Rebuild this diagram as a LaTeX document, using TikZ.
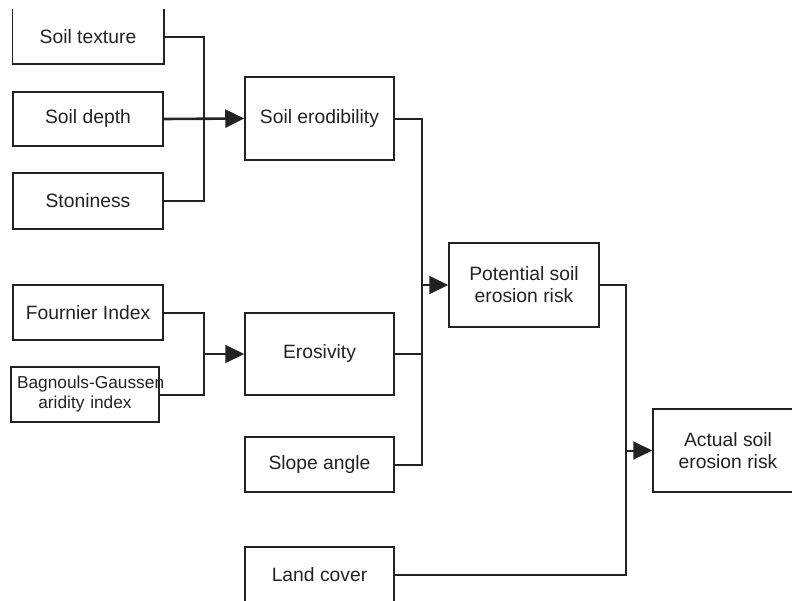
\documentclass[tikz,border=0pt]{standalone}
\usepackage{fontspec}
\setmainfont{Liberation Sans}
\usetikzlibrary{arrows.meta}
\definecolor{ink}{HTML}{222222}
\begin{document}
\begin{tikzpicture}[x=1pt,y=-1pt,
  boxline/.style={draw=ink, line width=1.5pt},
  box/.style={boxline, minimum width=150pt, inner sep=0pt, align=center,
    text=ink, font=\fontsize{19.3}{22}\selectfont},
  link/.style={draw=ink, line width=2pt},
  feed/.style={link, -{Triangle[length=19pt,width=18pt]}}]
\useasboundingbox (0,0) rectangle (792,600);
\clip (0,0) rectangle (792,600);

% soil factors
\node[box, draw=none, minimum height=53pt] (tex) at (88,36.5) {Soil texture};
\draw[boxline] (tex.north west) -- (tex.south west) -- (tex.south east) -- (tex.north east);
\node[box, minimum height=54pt] (dep) at (88,119) {Soil depth};
\node[box, minimum height=56pt] (sto) at (88,201) {Stoniness};

% climate factors
\node[box, minimum width=0pt, text width=136pt, inner xsep=6pt, minimum height=55pt,
      font=\fontsize{17.3}{20}\selectfont] (bag) at (85,394.5) {\mbox{Bagnouls-Gaussen}\\aridity index};
\node[box, minimum height=55pt] (four) at (88,312.5) {Fournier Index};

% intermediate layers
\node[box, minimum width=149pt, minimum height=83pt] (erod) at (319.5,118.5) {Soil erodibility};
\node[box, minimum width=149pt, minimum height=82pt] (eros) at (319.5,354) {Erosivity};
\node[box, minimum width=149pt, minimum height=55pt] (slope) at (319.5,464.5) {Slope angle};
\node[box, minimum width=149pt, minimum height=56pt] (land) at (319.5,575) {Land cover};

% risk outputs
\node[box, minimum height=84pt] (pot) at (524,285) {Potential soil\\erosion risk};
\node[box, minimum height=83pt] (act) at (728,450.5) {Actual soil\\erosion risk};

% junction columns
\coordinate (ja) at (204,0);
\coordinate (jb) at (422,0);
\coordinate (jc) at (626,0);

\draw[link] (tex.east) -| (ja |- sto.east) -- (sto.east);
\draw[feed, line width=2.6pt] (dep.east) -- (erod.west);

\draw[link] (four.east) -| (ja |- bag.east) -- (bag.east);
\draw[feed] (ja |- eros.west) -- (eros.west);

\draw[link] (erod.east) -| (jb |- slope.east) -- (slope.east);
\draw[link] (eros.east) -- (jb |- eros.east);
\draw[feed] (jb |- pot.west) -- (pot.west);

\draw[link] (pot.east) -| (jc |- land.east) -- (land.east);
\draw[feed] (jc |- act.west) -- (act.west);
\end{tikzpicture}
\end{document}
